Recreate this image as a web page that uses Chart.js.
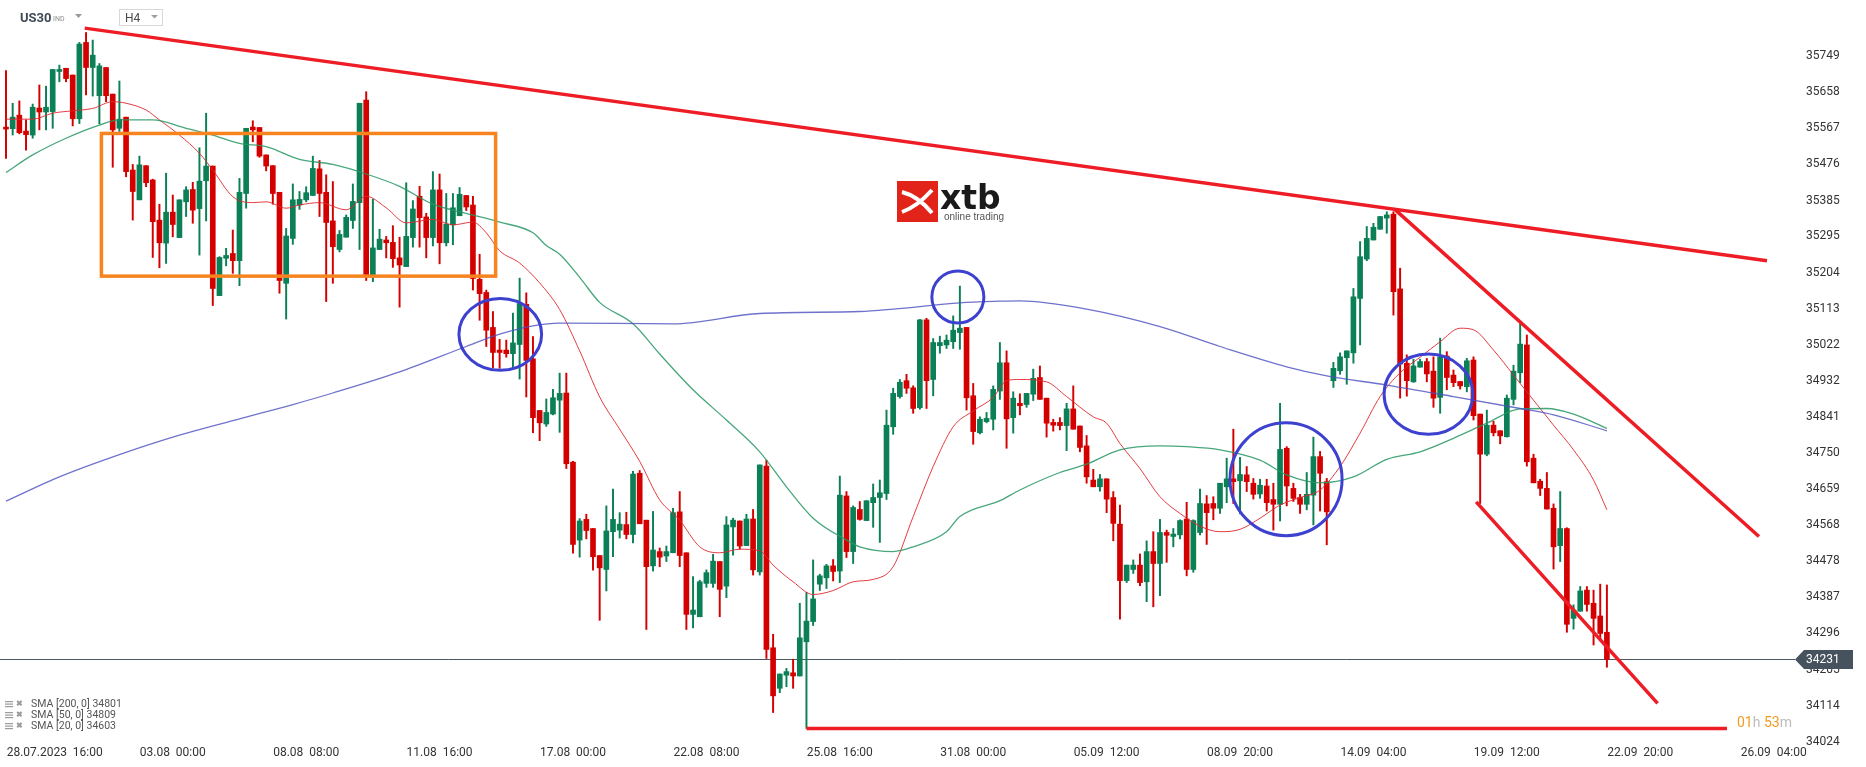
<!DOCTYPE html>
<html>
<head>
<meta charset="utf-8">
<title>US30 H4</title>
<script src="https://cdn.jsdelivr.net/npm/chart.js@4.4.1/dist/chart.umd.min.js"></script>
<style>
  html, body { margin: 0; padding: 0; background: #fff; }
</style>
</head>
<body>
<canvas id="chart" width="1866" height="767"></canvas>
<script>
// ========== DATA ==========
// H4 candles, one per index (5 = 28.07.2023 16:00, labels every 20 candles)
const opens = [
  35570,35566,35600,35560,35550,35618,35608,35609,35710,35718,
  35701,35591,35783,35720,35649,35720,35653,35567,35595,35462,
  35387,35473,35437,35336,35278,35356,35292,35382,35413,35365,
  35435,35472,35146,35240,35252,35234,35403,35570,35569,35500,
  35473,35406,35177,35290,35374,35387,35398,35465,35406,35334,
  35262,35293,35335,35380,35638,35198,35262,35286,35280,35241,
  35219,35292,35396,35344,35292,35412,35279,35324,35347,35398,
  35374,35187,35154,35066,35009,35009,35000,35023,35124,34987,
  34857,34823,34848,34883,34901,34727,34531,34583,34560,34492,
  34457,34552,34556,34570,34545,34699,34581,34466,34502,34491,
  34499,34602,34499,34344,34338,34422,34422,34477,34415,34564,
  34579,34517,34584,34451,34717,34260,34158,34191,34197,34189,
  34275,34326,34420,34436,34466,34453,34642,34502,34608,34580,
  34625,34638,34648,34816,34892,34932,34914,34864,35085,34935,
  35020,35022,35030,35053,35066,34894,34801,34829,34835,34906,
  34977,34839,34875,34872,34898,34940,34888,34827,34827,34819,
  34861,34818,34768,34682,34665,34685,34638,34571,34429,34457,
  34468,34426,34502,34472,34550,34540,34544,34584,34457,34550,
  34622,34623,34611,34665,34685,34680,34695,34674,34647,34667,
  34633,34621,34762,34661,34638,34621,34644,34741,34678,34932,
  34957,34990,35002,35139,35238,35286,35313,35341,35351,35163,
  34976,34929,34966,34980,34956,34890,34994,34946,34930,34917,
  34984,34848,34747,34820,34806,34791,34885,34952,35022,34737,
  34679,34661,34611,34517,34560,34334,34352,34405,34372,34340,
  34299
];
const highs = [
  35712,35630,35636,35588,35628,35676,35673,35715,35726,35718,
  35701,35783,35808,35789,35730,35720,35653,35686,35595,35476,
  35497,35473,35439,35376,35454,35399,35387,35420,35431,35518,
  35605,35472,35244,35265,35311,35441,35567,35586,35569,35500,
  35473,35406,35315,35427,35408,35420,35497,35486,35450,35433,
  35310,35349,35427,35630,35659,35389,35313,35295,35322,35293,
  35430,35385,35421,35353,35458,35452,35403,35403,35418,35398,
  35396,35250,35160,35106,35036,35034,35102,35190,35153,35043,
  34857,34886,34910,34951,34951,34729,34585,34596,34560,34492,
  34617,34659,34600,34601,34704,34706,34581,34603,34511,34516,
  34611,34653,34499,34439,34430,34456,34495,34477,34590,34586,
  34579,34596,34608,34720,34732,34294,34194,34208,34231,34372,
  34399,34481,34445,34470,34482,34692,34653,34617,34628,34630,
  34672,34682,34858,34913,34935,34948,34919,35086,35089,35038,
  35044,35047,35095,35170,35066,34925,34841,34852,34919,35028,
  35007,34904,34899,34900,34961,34969,34888,34835,34839,34875,
  34919,34818,34794,34709,34696,34685,34653,34619,34468,34481,
  34496,34529,34552,34583,34556,34560,34582,34626,34582,34659,
  34643,34640,34674,34737,34810,34739,34716,34686,34684,34684,
  34674,34875,34766,34674,34646,34701,34790,34754,34686,34978,
  35002,35007,35164,35282,35320,35328,35345,35357,35357,35215,
  34997,34986,34986,34988,34992,35039,35005,34959,34930,34988,
  34992,34848,34858,34830,34806,34896,34971,35076,35047,34747,
  34684,34701,34622,34653,34562,34368,34414,34414,34405,34420,
  34418
];
const lows = [
  35491,35550,35553,35512,35542,35563,35563,35567,35684,35684,
  35573,35579,35651,35648,35578,35634,35469,35559,35445,35336,
  35387,35420,35242,35216,35227,35294,35292,35345,35328,35248,
  35334,35121,35146,35221,35202,35171,35366,35533,35494,35460,
  35376,35152,35087,35275,35363,35382,35398,35345,35131,35177,
  35256,35293,35315,35262,35184,35181,35262,35241,35217,35117,
  35219,35268,35268,35241,35271,35226,35271,35274,35347,35360,
  35160,35084,35018,34964,34963,34991,34964,34936,34891,34801,
  34781,34817,34846,34802,34711,34498,34488,34534,34455,34329,
  34403,34489,34536,34534,34524,34572,34306,34453,34464,34477,
  34499,34464,34306,34310,34338,34412,34412,34338,34386,34493,
  34508,34517,34443,34443,34233,34097,34147,34162,34158,34189,
  34057,34316,34404,34409,34428,34424,34487,34472,34581,34580,
  34563,34525,34633,34797,34888,34900,34850,34860,34862,34894,
  35001,35013,35013,35011,34858,34772,34798,34826,34808,34885,
  34762,34800,34846,34865,34882,34885,34790,34805,34808,34756,
  34810,34753,34674,34665,34654,34600,34529,34332,34424,34447,
  34416,34376,34363,34391,34475,34514,34534,34441,34450,34544,
  34520,34582,34598,34625,34623,34597,34653,34634,34636,34604,
  34556,34579,34617,34628,34598,34607,34569,34604,34519,34915,
  34948,34923,34976,35022,35234,35286,35313,35303,35097,34888,
  34893,34928,34966,34929,34865,34850,34909,34917,34911,34904,
  34833,34623,34743,34793,34773,34790,34871,34927,34717,34675,
  34643,34609,34458,34477,34299,34307,34352,34352,34267,34280,
  34211
];
const closes = [
  35565,35595,35556,35551,35620,35608,35620,35715,35715,35692,
  35591,35779,35720,35751,35724,35649,35563,35590,35458,35408,
  35475,35430,35332,35279,35356,35325,35387,35412,35361,35434,
  35472,35164,35242,35247,35234,35406,35567,35563,35497,35472,
  35403,35184,35296,35387,35388,35405,35466,35403,35330,35269,
  35300,35343,35383,35630,35198,35266,35288,35279,35239,35223,
  35295,35364,35342,35292,35412,35279,35326,35367,35401,35369,
  35189,35151,35059,35003,35003,35000,35027,35126,34983,34839,
  34826,34852,34889,34900,34723,34520,34579,34555,34489,34461,
  34554,34583,34571,34545,34697,34572,34464,34506,34488,34502,
  34600,34492,34344,34355,34426,34449,34478,34407,34569,34581,
  34516,34584,34456,34720,34256,34139,34194,34200,34189,34285,
  34327,34383,34441,34466,34452,34644,34502,34613,34583,34630,
  34638,34650,34820,34900,34928,34913,34862,35085,34932,35028,
  35028,35034,35059,35064,34889,34804,34835,34837,34910,34977,
  34836,34888,34869,34900,34938,34885,34825,34820,34819,34861,
  34810,34764,34690,34665,34685,34634,34573,34429,34468,34468,
  34424,34502,34472,34550,34543,34546,34580,34457,34580,34623,
  34600,34611,34674,34685,34678,34696,34678,34646,34669,34625,
  34621,34759,34667,34636,34621,34646,34741,34699,34602,34963,
  34992,35007,35143,35244,35290,35318,35345,35349,35156,34974,
  34932,34969,34980,34949,34888,34992,34940,34927,34919,34982,
  34844,34747,34820,34801,34793,34888,34956,35024,34728,34675,
  34661,34609,34514,34560,34319,34355,34403,34369,34334,34296,
  34231
];

// moving averages (candle index -> value)
const sma20Idx = [0,4,7,10,13,16,18,21,23,26,29,31,34,37,39,42,44,47,51,54,57,60,64,67,70,72,74,77,80,83,86,89,92,95,98,101,104,107,110,113,115,118,121,124,127,130,133,136,139,142,145,148,150,152,156,159,163,165,167,170,173,176,179,182,185,188,191,194,197,200,203,206,209,212,215,218,220,223,226,229,232,235,238,240];
const sma20 = [35590,35590,35605,35611,35617,35634,35630,35613,35588,35550,35504,35462,35395,35380,35382,35366,35374,35380,35362,35396,35367,35329,35338,35324,35331,35304,35259,35228,35178,35111,35007,34891,34810,34729,34632,34581,34514,34499,34508,34504,34468,34426,34394,34404,34426,34432,34464,34590,34716,34816,34856,34890,34932,34935,34929,34892,34841,34825,34774,34711,34640,34598,34566,34552,34558,34586,34619,34638,34657,34716,34800,34892,34952,34991,35030,35064,35060,35009,34946,34883,34820,34758,34682,34607];
const sma50Idx = [0,4,9,14,17,22,27,31,35,39,44,49,54,59,64,69,74,79,81,83,86,89,94,98,103,108,113,117,121,126,128,133,136,141,143,149,152,158,162,167,173,177,182,188,192,197,202,207,212,217,222,227,231,235,240];
const sma50 = [35456,35500,35542,35575,35588,35588,35567,35550,35529,35521,35489,35476,35452,35421,35376,35353,35331,35304,35272,35250,35192,35129,35075,34999,34909,34833,34753,34665,34586,34531,34514,34502,34514,34552,34590,34630,34657,34701,34722,34758,34768,34766,34758,34732,34695,34675,34690,34734,34753,34787,34825,34861,34862,34848,34812];
const sma200Idx = [0,8,17,26,35,43,49,59,69,74,79,83,100,113,128,133,143,149,152,162,173,182,192,198,207,217,227,232,240];
const sma200 = [34629,34690,34746,34795,34836,34872,34901,34954,35018,35049,35070,35077,35075,35101,35106,35112,35128,35132,35133,35112,35068,35018,34967,34944,34921,34892,34862,34846,34806];

// legend values shown bottom-left
const smaLegend = [["SMA [200, 0]", 34801], ["SMA [50, 0]", 34809], ["SMA [20, 0]", 34603]];

// axis labels
const xTickLabels = ["28.07.2023  16:00", "03.08  00:00", "08.08  08:00", "11.08  16:00", "17.08  00:00",
  "22.08  08:00", "25.08  16:00", "31.08  00:00", "05.09  12:00", "08.09  20:00", "14.09  04:00",
  "19.09  12:00", "22.09  20:00", "26.09  04:00"];
const yTickValues = [35749,35658,35567,35476,35385,35295,35204,35113,35022,34932,34841,34750,34659,34568,34478,34387,34296,34205,34114,34024];

// drawings on the chart, in [candle index, price]
const trendLines = [
  [[11.8, 35819], [264, 35234]],
  [[208.2, 35363], [262.8, 34540]],
  [[220.4, 34627], [247.6, 34120]],
  [[120, 34057], [258, 34057]]
];
const rangeBox = [[14.3, 35554], [73.4, 35195]];
const circles = [
  [[67.9, 35139], [80.3, 34958]],
  [[138.8, 35208], [146.6, 35077]],
  [[183.5, 34826], [200.3, 34542]],
  [[206.6, 34999], [219.9, 34797]]
];

// ========== STYLE ==========
const GREEN = "#0b7f55";
const RED = "#d40000";
const FONT = "Roboto";

const upDown = closes.map((c, i) => (c >= opens[i] ? GREEN : RED));
const lastPrice = closes[closes.length - 1];

// ========== OVERLAY PLUGIN ==========
const overlay = {
  id: "overlay",
  beforeDatasetsDraw(chart) {
    const { ctx, chartArea, scales } = chart;
    const py = Math.round(scales.y.getPixelForValue(lastPrice)) + 0.5;
    ctx.save();
    ctx.strokeStyle = "#4a5661";
    ctx.lineWidth = 1;
    ctx.beginPath();
    ctx.moveTo(chartArea.left, py);
    ctx.lineTo(chartArea.right, py);
    ctx.stroke();
    ctx.restore();
  },
  afterDatasetsDraw(chart) {
    const { ctx, scales } = chart;
    const pt = (p) => [scales.x.getPixelForValue(p[0]), scales.y.getPixelForValue(p[1])];
    ctx.save();

    // orange consolidation box
    const [b1, b2] = rangeBox.map(pt);
    ctx.strokeStyle = "#f7841f";
    ctx.lineWidth = 3.5;
    ctx.strokeRect(b1[0], b1[1], b2[0] - b1[0], b2[1] - b1[1]);

    // red trend lines
    ctx.strokeStyle = "#ee1c25";
    ctx.lineWidth = 3.5;
    trendLines.forEach((ln) => {
      const [a, b] = ln.map(pt);
      ctx.beginPath();
      ctx.moveTo(a[0], a[1]);
      ctx.lineTo(b[0], b[1]);
      ctx.stroke();
    });

    // blue circles
    ctx.strokeStyle = "#3d41cf";
    ctx.lineWidth = 3;
    circles.forEach((c) => {
      const [a, b] = c.map(pt);
      ctx.beginPath();
      ctx.ellipse((a[0] + b[0]) / 2, (a[1] + b[1]) / 2, (b[0] - a[0]) / 2, (b[1] - a[1]) / 2, 0, 0, Math.PI * 2);
      ctx.stroke();
    });
    ctx.restore();
  },
  afterDraw(chart) {
    const { ctx, chartArea, scales } = chart;
    ctx.save();

    // header: instrument + interval
    ctx.textBaseline = "alphabetic";
    ctx.fillStyle = "#3e4a55";
    ctx.font = "bold 13px " + FONT;
    ctx.fillText("US30", 20, 22);
    ctx.fillStyle = "#8c8c8c";
    ctx.font = "7px " + FONT;
    ctx.fillText("IND", 53, 21);
    ctx.fillStyle = "#9a9a9a";
    ctx.beginPath(); ctx.moveTo(75, 14); ctx.lineTo(82, 14); ctx.lineTo(78.5, 18); ctx.closePath(); ctx.fill();
    ctx.strokeStyle = "#d8d8d8";
    ctx.lineWidth = 1;
    ctx.strokeRect(119.5, 9.5, 43, 16);
    ctx.fillStyle = "#4a4a4a";
    ctx.font = "12px " + FONT;
    ctx.fillText("H4", 125, 22);
    ctx.fillStyle = "#a0a0a0";
    ctx.beginPath(); ctx.moveTo(151, 15); ctx.lineTo(158, 15); ctx.lineTo(154.5, 18.5); ctx.closePath(); ctx.fill();

    // xtb logo
    ctx.fillStyle = "#e2231a";
    ctx.fillRect(897, 181, 41, 41);
    ctx.strokeStyle = "#fff";
    ctx.lineWidth = 4;
    ctx.beginPath();
    ctx.moveTo(902, 192); ctx.quadraticCurveTo(918, 196, 932, 213);
    ctx.moveTo(902, 212); ctx.quadraticCurveTo(918, 206, 932, 190);
    ctx.stroke();
    ctx.fillStyle = "#1a1a1a";
    ctx.font = "bold 33px 'DejaVu Sans'";
    ctx.fillText("xtb", 940, 209);
    ctx.fillStyle = "#555";
    ctx.font = "10px Arial";
    ctx.fillText("online trading", 944, 220);

    // SMA legend bottom-left
    ctx.textBaseline = "middle";
    smaLegend.forEach(([name, val], i) => {
      const yy = 704 + i * 11;
      ctx.fillStyle = "#9a9a9a";
      for (let k = 0; k < 3; k++) ctx.fillRect(5, yy - 3 + k * 2.5, 8, 1.2);
      ctx.font = "bold 8px " + FONT;
      ctx.fillText("\u2716", 16, yy);
      ctx.fillStyle = "#555";
      ctx.font = "10.5px " + FONT;
      ctx.fillText(name + " " + val, 31, yy);
    });

    // last price tag
    const py = Math.round(scales.y.getPixelForValue(lastPrice)) + 0.5;
    const right = chartArea.right;
    ctx.fillStyle = "#46535e";
    ctx.beginPath();
    ctx.moveTo(right, py);
    ctx.lineTo(right + 9, py - 9.5);
    ctx.lineTo(right + 58, py - 9.5);
    ctx.lineTo(right + 58, py + 9.5);
    ctx.lineTo(right + 9, py + 9.5);
    ctx.closePath();
    ctx.fill();
    ctx.fillStyle = "#fff";
    ctx.font = "12px " + FONT;
    ctx.fillText(String(lastPrice), right + 11, py + 0.5);

    // candle countdown
    ctx.textBaseline = "alphabetic";
    ctx.font = "14px " + FONT;
    let cx = 1737;
    [["01", "#f39a1e"], ["h ", "#bdbdbd"], ["53", "#f39a1e"], ["m", "#bdbdbd"]].forEach(([t, col]) => {
      ctx.fillStyle = col;
      ctx.fillText(t, cx, 727);
      cx += ctx.measureText(t).width;
    });
    ctx.restore();
  }
};

// ========== CHART ==========
const candleWicks = highs.map((h, i) => ({ x: i, y: [lows[i], h] }));
const candleBodies = opens.map((o, i) => ({ x: i, y: [o, closes[i]] }));
const toPoints = (idx, vals) => idx.map((n, i) => ({ x: n, y: vals[i] }));

new Chart(document.getElementById("chart"), {
  type: "bar",
  data: {
    datasets: [
      { type: "line", data: toPoints(sma200Idx, sma200), borderColor: "rgba(75,79,191,0.8)", borderWidth: 1.3,
        pointRadius: 0, cubicInterpolationMode: "monotone", order: 1 },
      { type: "line", data: toPoints(sma50Idx, sma50), borderColor: "rgba(40,150,100,0.85)", borderWidth: 1.3,
        pointRadius: 0, cubicInterpolationMode: "monotone", order: 1 },
      { type: "line", data: toPoints(sma20Idx, sma20), borderColor: "rgba(224,40,46,0.9)", borderWidth: 1,
        pointRadius: 0, cubicInterpolationMode: "monotone", order: 1 },
      { data: candleWicks, backgroundColor: upDown, grouped: false, barPercentage: 1, categoryPercentage: 1,
        barThickness: 1.3, maxBarThickness: 1.3, borderWidth: 0, borderSkipped: false, order: 3 },
      { data: candleBodies, backgroundColor: upDown, grouped: false, barPercentage: 1, categoryPercentage: 1,
        barThickness: 5, maxBarThickness: 5, minBarLength: 1, borderWidth: 0, borderSkipped: false, order: 2 }
    ]
  },
  options: {
    responsive: false,
    animation: false,
    devicePixelRatio: 1,
    layout: { padding: 0 },
    plugins: { legend: { display: false }, tooltip: { enabled: false } },
    scales: {
      x: {
        type: "linear",
        min: -0.9,
        max: 268.2,
        offset: false,
        grid: { display: false, drawTicks: false },
        border: { display: false },
        afterBuildTicks: (s) => {
          // labels every 20 candles; the first one is pushed in so it is not cut off
          s.ticks = xTickLabels.map((_, k) => ({ value: k === 0 ? 7.3 : 5 + 20 * k }));
        },
        afterFit: (s) => { s.height = 25; s.paddingLeft = 0; s.paddingRight = 0; },
        ticks: {
          autoSkip: false,
          maxRotation: 0,
          padding: 4,
          color: "#333",
          font: { family: FONT, size: 12 },
          callback: (v, i) => xTickLabels[i]
        }
      },
      y: {
        position: "right",
        min: 34022.9,
        max: 35889.8,
        grid: { display: false, drawTicks: false },
        border: { display: false },
        afterBuildTicks: (s) => { s.ticks = yTickValues.map((v) => ({ value: v })); },
        afterFit: (s) => { s.width = 71; s.paddingTop = 0; s.paddingBottom = 0; },
        ticks: {
          padding: 11,
          crossAlign: "near",
          color: "#333",
          font: { family: FONT, size: 12 },
          callback: (v) => String(v)
        }
      }
    }
  },
  plugins: [overlay]
});
</script>
</body>
</html>
